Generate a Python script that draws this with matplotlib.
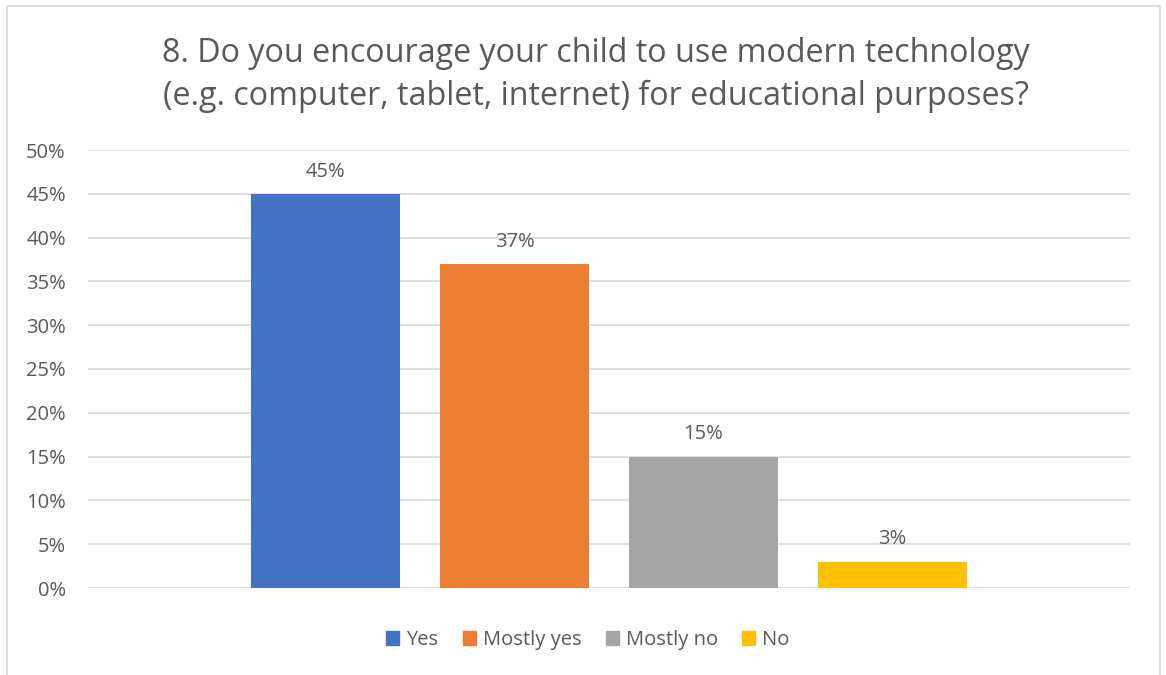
import matplotlib
matplotlib.use("Agg")
import matplotlib.pyplot as plt
from matplotlib.patches import Rectangle
from matplotlib.ticker import FuncFormatter

categories = ["Yes", "Mostly yes", "Mostly no", "No"]
values = [45, 37, 15, 3]
colors = ["#4472C4", "#ED7D31", "#A5A5A5", "#FFC000"]
yticks = [0, 5, 10, 15, 20, 25, 30, 35, 40, 45, 50]
title = "8. Do you encourage your child to use modern technology\n(e.g. computer, tablet, internet) for educational purposes?"

plt.rcParams['font.family'] = ['Open Sans', 'DejaVu Sans']
txt = "#595959"

W, H = 1166, 675
fig = plt.figure(figsize=(W/100, H/100), dpi=100)
fig.patches.append(Rectangle((7/W, -0.01), (1160-7)/W, (H-6)/H + 0.01, transform=fig.transFigure,
                             fill=False, edgecolor="#D9D9D9", linewidth=1.2))

ax = fig.add_axes([88/W, 1-588/H, (1130-88)/W, (588-150)/H])
x = list(range(len(categories)))
bars = ax.bar(x, values, width=0.79, color=colors, label=categories, zorder=3)
for xi, v in zip(x, values):
    ax.text(xi, v + 1.4, f"{v}%", ha="center", va="bottom", fontsize=14.5, color=txt)

ax.set_xlim(-1.26, 4.26)
ax.set_ylim(0, 50)
ax.set_yticks(yticks)
ax.yaxis.set_major_formatter(FuncFormatter(lambda v, p: f"{int(v)}%"))
ax.tick_params(axis="y", length=0, pad=16, labelsize=14.5, labelcolor=txt)
ax.set_xticks([])
for s in ax.spines.values():
    s.set_visible(False)
ax.grid(axis="y", color="#D9D9D9", linewidth=1.2, zorder=0)

fig.text(596/W, 1-75/H, title, ha="center", va="center", fontsize=23.2, color=txt, linespacing=1.42)

handles = [Rectangle((0, 0), 1, 1, color=c) for c in colors]
fig.legend(handles, categories, loc="center", bbox_to_anchor=(588/W, 1-640/H), ncol=4,
           frameon=False, fontsize=14.5, labelcolor=txt, handlelength=0.65, handleheight=0.65,
           handletextpad=0.35, columnspacing=1.2)

fig.savefig("out.png", dpi=100)
